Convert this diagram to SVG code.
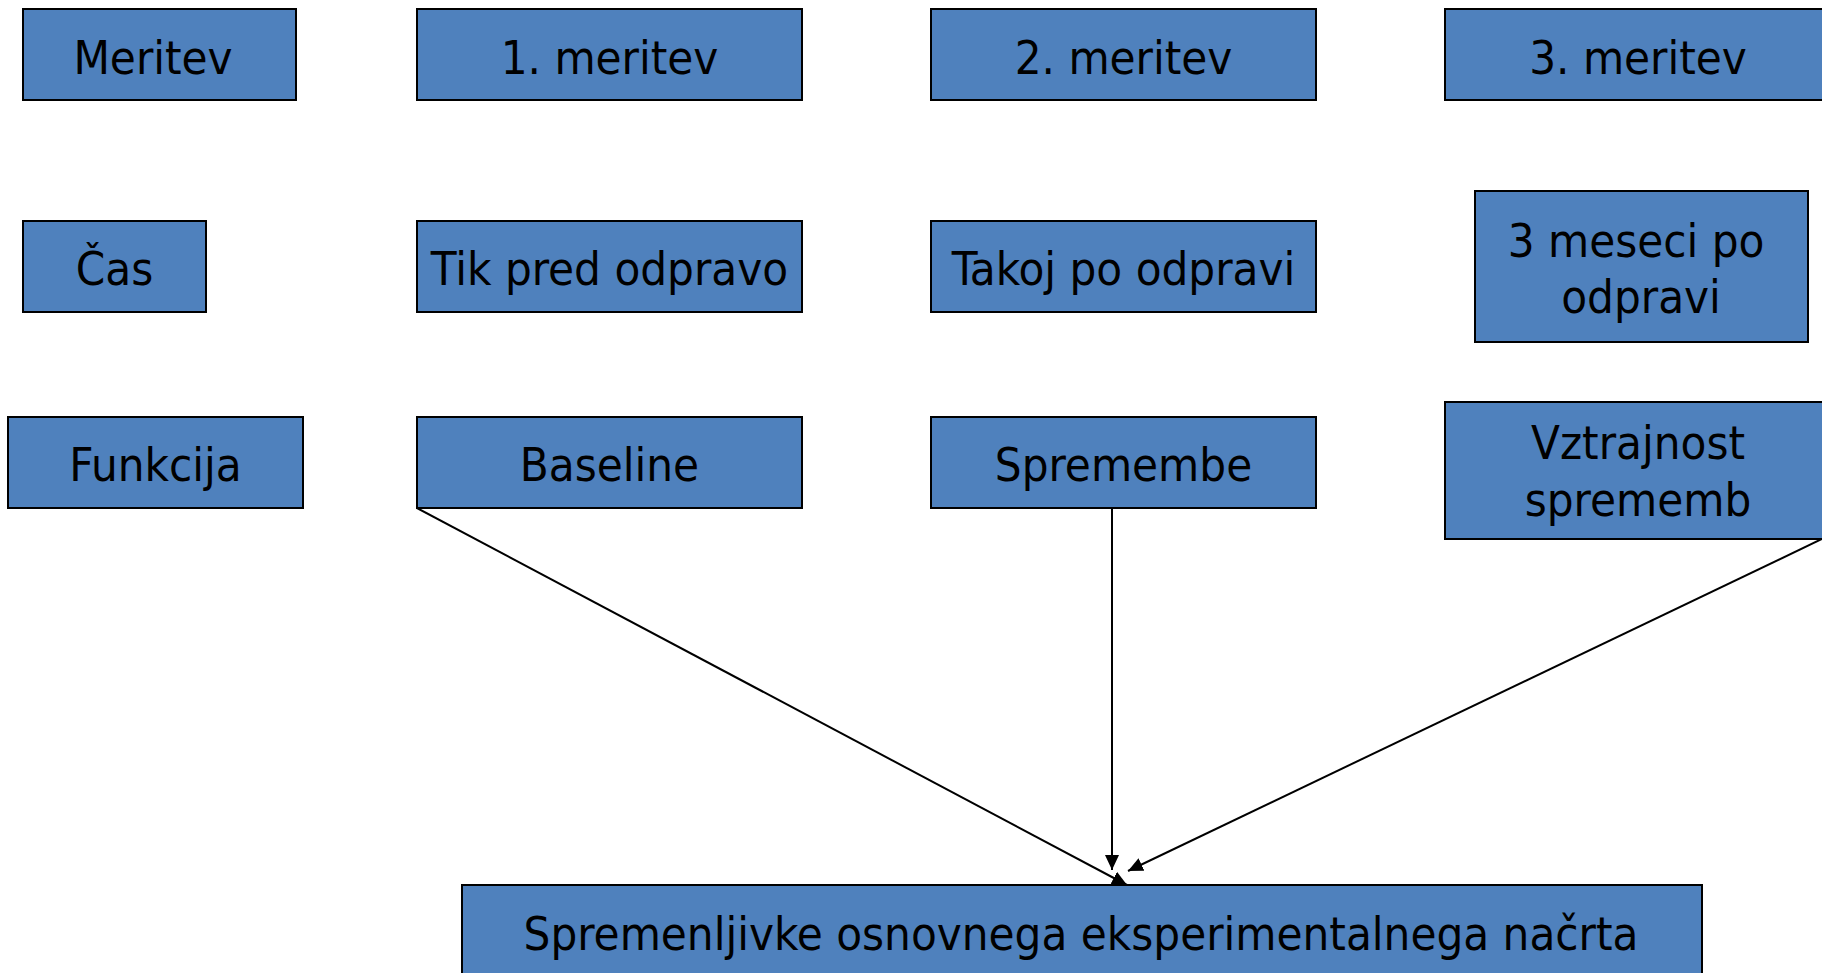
<svg xmlns="http://www.w3.org/2000/svg" width="1822" height="973" viewBox="0 0 1822 973">
<style>
.box{fill:#4F81BD;stroke:#000;stroke-width:2}
.t{font-family:"DejaVu Sans Condensed","DejaVu Sans",sans-serif;font-stretch:condensed;font-size:47px;fill:#000;text-anchor:middle}
.c{fill:none;stroke:#000;stroke-width:2;marker-end:url(#ah)}
</style>
<defs>
<marker id="ah" markerUnits="userSpaceOnUse" markerWidth="15" markerHeight="14" refX="15" refY="7" orient="auto">
<path d="M0,0 L15,7 L0,14 z" fill="#000"/>
</marker>
</defs>
<rect width="1822" height="973" fill="#fff"/>
<g id="n-meritev"><rect class="box" x="23" y="9" width="273" height="91"/><text class="t" x="153" y="74">Meritev</text></g>
<g id="n-m1"><rect class="box" x="417" y="9" width="385" height="91"/><text class="t" x="609.5" y="74">1. meritev</text></g>
<g id="n-m2"><rect class="box" x="931" y="9" width="385" height="91"/><text class="t" x="1123.5" y="74">2. meritev</text></g>
<g id="n-m3"><rect class="box" x="1445" y="9" width="392" height="91"/><text class="t" x="1638" y="74">3. meritev</text></g>
<g id="n-cas"><rect class="box" x="23" y="221" width="183" height="91"/><text class="t" x="114.5" y="285">Čas</text></g>
<g id="n-tik"><rect class="box" x="417" y="221" width="385" height="91"/><text class="t" x="609.5" y="285">Tik pred odpravo</text></g>
<g id="n-takoj"><rect class="box" x="931" y="221" width="385" height="91"/><text class="t" x="1123.5" y="285">Takoj po odpravi</text></g>
<g id="n-3mes"><rect class="box" x="1475" y="191" width="333" height="151"/><text class="t" x="1636" y="257">3 meseci po</text><text class="t" x="1641" y="313">odpravi</text></g>
<g id="n-funkcija"><rect class="box" x="8" y="417" width="295" height="91"/><text class="t" x="155.5" y="481">Funkcija</text></g>
<g id="n-baseline"><rect class="box" x="417" y="417" width="385" height="91"/><text class="t" x="609.5" y="481">Baseline</text></g>
<g id="n-spremembe"><rect class="box" x="931" y="417" width="385" height="91"/><text class="t" x="1123.5" y="481">Spremembe</text></g>
<g id="n-vztrajnost"><rect class="box" x="1445" y="402" width="392" height="137"/><text class="t" x="1638" y="459">Vztrajnost</text><text class="t" x="1638" y="516">sprememb</text></g>
<g id="n-spremenljivke"><rect class="box" x="462" y="885" width="1240" height="100"/><text class="t" x="1081" y="950">Spremenljivke osnovnega eksperimentalnega načrta</text></g>
<g id="connectors">
<line class="c" x1="417" y1="508" x2="1127" y2="885"/>
<line class="c" x1="1112" y1="508" x2="1112" y2="870"/>
<line class="c" x1="1822" y1="539" x2="1128" y2="871"/>
</g>
</svg>
